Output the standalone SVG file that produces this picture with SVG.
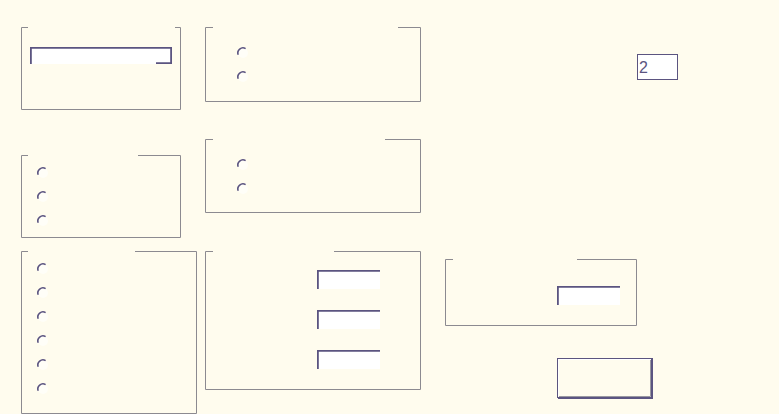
<svg xmlns="http://www.w3.org/2000/svg" width="779" height="414" viewBox="0 0 779 414">
<style>
.frame{fill:none;stroke:#8c8a90;stroke-width:1}
.dark{fill:none;stroke:#5b5480;stroke-width:1.8}
.field{fill:#ffffff}
.radio-bg{fill:#fffef8}
.radio{fill:none;stroke:#5b5480;stroke-width:1.6}
.val{font-family:"Liberation Sans",Arial,sans-serif;font-size:16px;fill:#5b5480}
</style>
<defs>
<g id="radio">
<circle class="radio-bg" cx="0" cy="0" r="5"/>
<path class="radio" d="M-4.8,1.8 A5.1,5.1 0 0 1 2.6,-4.4"/>
</g>
</defs>
<rect x="0" y="0" width="779" height="414" fill="#fffcee"/>

<g id="frame-combo">
<path class="frame" d="M28,27.5 H21.5 V109.5 H180.5 V27.5 H175"/>
<rect class="field" x="30" y="47" width="142" height="17"/>
<path class="dark" d="M30.9,64 V47.9 H171.1 V63.1 H156"/>
</g>

<g id="frame-radio-top">
<path class="frame" d="M213,27.5 H205.5 V101.5 H420.5 V27.5 H398"/>
<use href="#radio" x="243" y="53"/>
<use href="#radio" x="243" y="77"/>
</g>

<g id="spin-field">
<rect x="637.5" y="54.5" width="40" height="25" fill="#ffffff" stroke="#5b5480" stroke-width="1"/>
<text class="val" x="639" y="72.5">2</text>
</g>

<g id="frame-radio-three">
<path class="frame" d="M28,155.5 H21.5 V237.5 H180.5 V155.5 H138"/>
<use href="#radio" x="43" y="173"/>
<use href="#radio" x="43" y="197"/>
<use href="#radio" x="43" y="221"/>
</g>

<g id="frame-radio-mid">
<path class="frame" d="M213,139.5 H205.5 V212.5 H420.5 V139.5 H385"/>
<use href="#radio" x="243" y="165"/>
<use href="#radio" x="243" y="189"/>
</g>

<g id="frame-radio-six">
<path class="frame" d="M28,251.5 H21.5 V413.5 H196.5 V251.5 H135"/>
<use href="#radio" x="43" y="269"/>
<use href="#radio" x="43" y="293"/>
<use href="#radio" x="43" y="317"/>
<use href="#radio" x="43" y="341"/>
<use href="#radio" x="43" y="365"/>
<use href="#radio" x="43" y="389"/>
</g>

<g id="frame-fields">
<path class="frame" d="M213,251.5 H205.5 V389.5 H420.5 V251.5 H334"/>
<rect class="field" x="317" y="270" width="63" height="19"/>
<path class="dark" d="M317.9,289 V270.9 H380"/>
<rect class="field" x="317" y="310" width="63" height="19"/>
<path class="dark" d="M317.9,329 V310.9 H380"/>
<rect class="field" x="317" y="350" width="63" height="19"/>
<path class="dark" d="M317.9,369 V350.9 H380"/>
</g>

<g id="frame-single-field">
<path class="frame" d="M453,259.5 H445.5 V325.5 H636.5 V259.5 H577"/>
<rect class="field" x="557" y="286" width="63" height="19"/>
<path class="dark" d="M557.9,305 V286.9 H620"/>
</g>

<g id="button">
<rect x="557.5" y="358.5" width="95" height="39" fill="none" stroke="#5b5480" stroke-width="1"/>
<path d="M652,359 V398 H558" fill="none" stroke="#5b5480" stroke-width="2"/>
<path d="M558.5,396 V359.5 H650.5" fill="none" stroke="#ffffff" stroke-width="1"/>
<path d="M650.5,360 V396.5 H559" fill="none" stroke="#9a98a0" stroke-width="1"/>
</g>
</svg>
